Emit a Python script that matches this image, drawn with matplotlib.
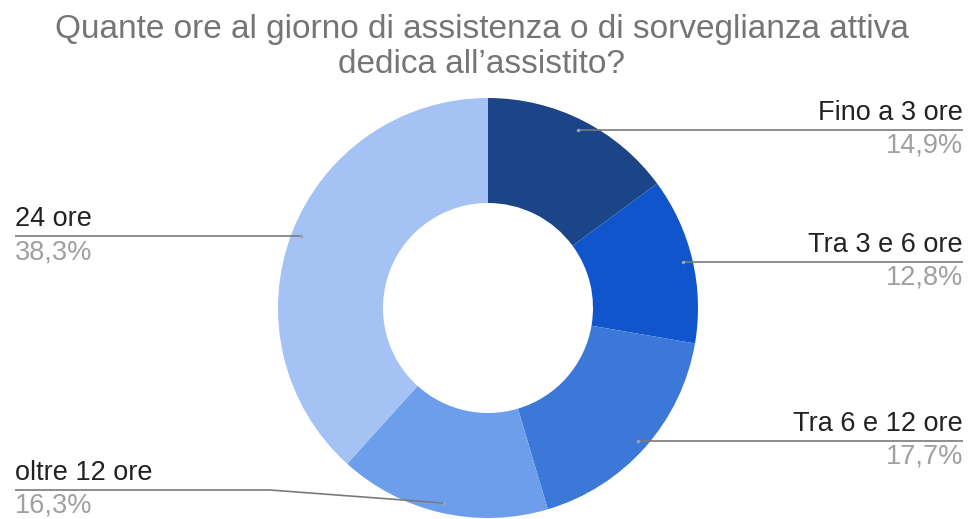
import numpy as np
import matplotlib
matplotlib.use("Agg")
import matplotlib.pyplot as plt

# Data
categories = ["Fino a 3 ore", "Tra 3 e 6 ore", "Tra 6 e 12 ore", "oltre 12 ore", "24 ore"]
values = [14.9, 12.8, 17.7, 16.3, 38.3]
pct_labels = ["14,9%", "12,8%", "17,7%", "16,3%", "38,3%"]
colors = ["#1c4587", "#1155cc", "#3c78d8", "#6d9eeb", "#a4c2f4"]
title = "Quante ore al giorno di assistenza o di sorveglianza attiva\ndedica all\u2019assistito?"

plt.rcParams["font.family"] = ["Liberation Sans", "DejaVu Sans"]

W, H = 969, 519
fig = plt.figure(figsize=(W / 100, H / 100), dpi=100)
ax = fig.add_axes([0, 0, 1, 1])

# donut geometry (pixel coords, y up)
cx, cy = 488, H - 308
R = 210
ring = 105

wedges, _ = ax.pie(values, colors=colors, startangle=90, counterclock=False,
                   center=(cx, cy), radius=R, frame=True,
                   wedgeprops=dict(width=ring, linewidth=0))
ax.set_xlim(0, W)
ax.set_ylim(0, H)
ax.set_aspect("equal")
ax.axis("off")

# label layout: side, leader line y (pixel from top) for the bent one
sides = ["right", "right", "right", "left", "left"]
line_y = [129, 262, 441, 490, 236]
x_right, x_left = 963, 15

total = sum(values)
cum = 0
for i, v in enumerate(values):
    mid = 90 - 360 * (cum + v / 2) / total
    cum += v
    px = cx + 200 * np.cos(np.radians(mid))
    py = cy + 200 * np.sin(np.radians(mid))
    ly = H - line_y[i]
    if abs(ly - py) > 3:
        # bent leader (oltre 12 ore)
        xs = [px, 270, x_left]
        ys = [py, ly, ly]
    else:
        ly = py
        xs = [px, x_right if sides[i] == "right" else x_left]
        ys = [py, py]
    tx = x_right if sides[i] == "right" else x_left
    ax.plot(xs, ys, color="#7a7a7a", lw=1.2, solid_capstyle="butt")
    ax.plot([px], [py], "o", ms=2.5, color="#9aa6b8", mec="none")
    ax.text(tx, ly + 4, categories[i], ha=sides[i], va="bottom", fontsize=19.5, color="#222222")
    ax.text(tx, ly - 3, pct_labels[i], ha=sides[i], va="top", fontsize=19.5, color="#a0a0a0")

fig.text(482 / W, 1 - 47 / H, title, ha="center", va="center", fontsize=24,
         color="#757575", linespacing=1.14)

fig.savefig("out.png", dpi=100, facecolor="white")
